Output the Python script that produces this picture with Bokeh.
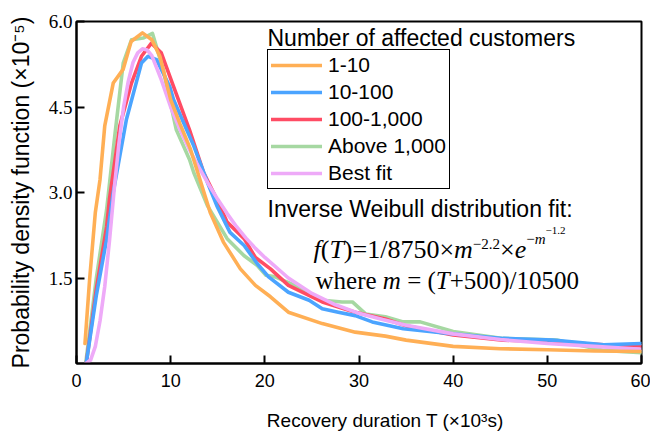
import math
from bokeh.plotting import figure
from bokeh.models import Range1d, FixedTicker, Label, Legend, LegendItem, PrintfTickFormatter
from bokeh.embed import file_html
from bokeh.resources import INLINE

# ---------------- data (recovery duration in 10^3 s, pdf in 10^-5) ----------------
t_1_10 = [0.9, 1.4, 2.0, 2.5, 3.0, 3.9, 4.95, 5.8, 7.0, 8.0, 8.85, 10.0, 11.0, 12.1, 13.2,
          14.2, 15.6, 17.4, 19.0, 20.6, 22.5, 26.1, 29.6, 32.8, 35.0, 40.0, 45.0, 50.0, 55.0, 60.0]
pdf_1_10 = [0.35, 1.49, 2.65, 3.23, 4.17, 4.92, 5.16, 5.65, 5.80, 5.68, 5.39, 4.63, 4.20, 3.76, 3.18,
            2.65, 2.13, 1.66, 1.37, 1.17, 0.90, 0.70, 0.55, 0.48, 0.41, 0.30, 0.26, 0.24, 0.22, 0.21]

t_10_100 = [1.06, 2.1, 3.2, 3.9, 5.3, 6.9, 7.6, 8.5, 9.9, 10.3, 11.7, 12.45, 13.9, 14.9, 16.3,
            17.8, 19.2, 20.4, 22.5, 24.7, 26.1, 27.8, 29.6, 31.4, 34.7, 40.0, 45.3, 50.6, 56.0, 60.0]
pdf_10_100 = [0.03, 1.19, 2.18, 3.0, 4.28, 5.27, 5.39, 5.33, 4.86, 4.63, 4.10, 3.82, 3.18, 2.77, 2.30,
              2.07, 1.75, 1.52, 1.25, 1.11, 0.96, 0.90, 0.84, 0.73, 0.61, 0.52, 0.44, 0.41, 0.33, 0.35]

t_100_1000 = [1.06, 2.1, 3.2, 3.5, 4.6, 5.84, 6.9, 7.96, 9.0, 10.3, 12.0, 13.5, 14.9, 16.0,
              17.8, 19.0, 20.6, 22.5, 26.1, 29.6, 32.8, 35.0, 40.0, 45.3, 50.6, 56.0, 60.0]
pdf_100_1000 = [0.03, 1.30, 2.40, 2.88, 4.17, 4.92, 5.39, 5.62, 5.45, 4.86, 4.10, 3.35, 2.88, 2.48,
                2.19, 1.86, 1.66, 1.37, 1.08, 0.90, 0.78, 0.66, 0.50, 0.41, 0.38, 0.33, 0.31]

t_above_1000 = [1.0, 2.1, 3.2, 4.07, 4.96, 5.84, 7.08, 8.07, 9.2, 10.6, 12.0, 12.45, 13.9, 16.0, 17.8,
                19.2, 20.1, 21.1, 23.2, 26.1, 28.2, 29.3, 30.7, 32.8, 34.7, 36.5, 40.0, 45.3, 51.0, 56.0, 60.0]
pdf_above_1000 = [0.03, 1.49, 2.70, 4.0, 5.27, 5.68, 5.71, 5.79, 5.16, 4.10, 3.58, 3.35, 2.77, 2.19, 1.89,
                  1.72, 1.55, 1.52, 1.37, 1.11, 1.08, 1.08, 0.87, 0.82, 0.73, 0.73, 0.56, 0.44, 0.41, 0.23, 0.19]

t_fit = [1.0, 1.5, 2.0, 2.5, 3.0, 3.5, 4.0, 4.5, 5.0, 5.5, 6.0, 6.5, 7.0, 7.5, 8.0,
         9.0, 10.0, 11.0, 12.0, 13.0, 14.0, 15.0, 16.0, 17.0, 18.0, 19.0, 20.0,
         22.5, 25.0, 27.5, 30.0, 32.5, 35.0, 40.0, 45.0, 50.0, 55.0, 60.0]
pdf_fit = [0.0, 0.06, 0.3, 0.75, 1.35, 2.15, 3.05, 3.85, 4.5, 4.95, 5.28, 5.45, 5.52, 5.5, 5.4,
           4.98, 4.5, 4.1, 3.75, 3.44, 3.15, 2.88, 2.63, 2.40, 2.20, 2.02, 1.86,
           1.50, 1.23, 1.03, 0.88, 0.77, 0.67, 0.52, 0.42, 0.35, 0.30, 0.25]

series_names = ["1-10", "10-100", "100-1,000", "Above 1,000", "Best fit"]
x_ticks = [0, 10, 20, 30, 40, 50, 60]
y_ticks = [1.5, 3.0, 4.5, 6.0]

COLORS = {"1-10": "#FFAF55", "10-100": "#4BA4FF", "100-1,000": "#FF4C64",
          "Above 1,000": "#A6D8A2", "Best fit": "#EEAAF8"}

NB = "\u00a0"

# ---------------- figure ----------------
p = figure(width=650, height=433, output_backend="svg", toolbar_location=None,
           x_range=Range1d(0, 60), y_range=Range1d(0, 6.0),
           min_border_left=76, min_border_right=9, min_border_top=21, min_border_bottom=68)
p.xgrid.visible = False
p.ygrid.visible = False
p.outline_line_color = "black"
p.outline_line_width = 2
p.outline_line_alpha = 1.0

for ax in (p.xaxis[0], p.yaxis[0]):
    ax.axis_line_width = 2
    ax.axis_line_color = "black"
    ax.major_tick_in = 8
    ax.major_tick_out = 0
    ax.major_tick_line_width = 2
    ax.major_tick_line_color = "black"
    ax.minor_tick_line_color = None
    ax.major_label_text_color = "black"
    ax.axis_label_text_font = "Liberation Sans"
    ax.axis_label_text_font_style = "normal"
    ax.axis_label_text_color = "black"

p.xaxis.ticker = FixedTicker(ticks=x_ticks)
p.xaxis.major_label_text_font = "Liberation Sans"
p.xaxis.major_label_text_font_size = "18px"
p.xaxis.major_label_standoff = 10
# leading no-break spaces shift the centred title right, as in the reference
p.xaxis.axis_label = NB * 10 + "Recovery duration T (×10³s)"
p.xaxis.axis_label_text_font_size = "19px"
p.xaxis.axis_label_standoff = 20

p.yaxis.ticker = FixedTicker(ticks=y_ticks)
p.yaxis.formatter = PrintfTickFormatter(format="%.1f")
p.yaxis.major_label_text_font = "Liberation Serif"
p.yaxis.major_label_text_font_size = "19px"
p.yaxis.major_label_standoff = 4
p.yaxis.axis_label = "Probability density function (×10⁻⁵)"
p.yaxis.axis_label_text_font_size = "23px"
p.yaxis.axis_label_standoff = 12

# ---------------- lines ----------------
data = {
    "1-10": (t_1_10, pdf_1_10),
    "10-100": (t_10_100, pdf_10_100),
    "100-1,000": (t_100_1000, pdf_100_1000),
    "Above 1,000": (t_above_1000, pdf_above_1000),
    "Best fit": (t_fit, pdf_fit),
}
renderers = {}
for name in ["Above 1,000", "100-1,000", "10-100", "Best fit", "1-10"]:
    xs, ys = data[name]
    renderers[name] = p.line(xs, ys, line_color=COLORS[name], line_width=3.6,
                             line_join="round", line_cap="round")

legend = Legend(items=[LegendItem(label=n, renderers=[renderers[n]]) for n in series_names],
                location=(191, 174), margin=0, padding=3, spacing=3,
                glyph_width=51, glyph_height=20, label_height=20, label_standoff=6,
                label_text_font="Liberation Sans", label_text_font_size="21px",
                label_text_color="black",
                border_line_color="black", border_line_width=1.5, border_line_alpha=1,
                background_fill_color="white", background_fill_alpha=1)
p.add_layout(legend)

# ---------------- text helpers (canvas pixel -> data) ----------------
def dx(px):
    return (px - 76) * 60 / 565

def dy(py):
    return (365 - py) * 6.0 / 344

SERIF = {'(': .333, ')': .333, '=': .564, '/': .278, '×': .564, '−': .564, '.': .25,
         '+': .564, NB: .25, 'w': .722, 'h': .5, 'e': .444, 'r': .333}
SERIF_I = {'f': .278, 'T': .556, 'm': .722, 'e': .444}

def text_w(s, style, size):
    table = SERIF_I if style == "italic" else SERIF
    return sum(table.get(ch, .5) for ch in s) * size

def put(x_px, base_py, text, font, style, size):
    # the rendered baseline sits about a third of the font size below the anchor
    y_px = base_py - 0.32 * size
    p.add_layout(Label(x=dx(x_px), y=dy(y_px), x_units="data", y_units="data",
                       text=text, text_font=font, text_font_style=style,
                       text_font_size=f"{size}px", text_color="black",
                       text_baseline="alphabetic", text_align="left"))

def put_run(x0, base_py, pieces):
    x = x0
    for text, style, size, raise_ in pieces:
        text = text.replace(" ", NB)
        put(x, base_py - raise_, text, "Liberation Serif", style, size)
        x += text_w(text, style, size)

SAN = "Liberation Sans"

# legend title and fit description
put(267, 45, "Number of affected customers", SAN, "normal", 23)
put(267, 217, "Inverse Weibull distribution fit:", SAN, "normal", 23)

put_run(313, 259, [
    ("f", "italic", 26, 0),
    ("(", "normal", 26, 0),
    ("T", "italic", 26, 0),
    (")=1/8750×", "normal", 26, 0),
    ("m", "italic", 26, 0),
    ("−2.2", "normal", 15, 9),
    ("×", "normal", 26, 0),
    ("e", "italic", 26, 0),
    ("−", "normal", 15, 14),
    ("m", "italic", 15, 14),
    ("−1.2", "normal", 11, 24),
])
put_run(315, 290, [
    ("where ", "normal", 25, 0),
    ("m", "italic", 25, 0),
    (" = (", "normal", 25, 0),
    ("T", "italic", 25, 0),
    ("+500)/10500", "normal", 25, 0),
])

open("out.html", "w").write(file_html(p, INLINE))
